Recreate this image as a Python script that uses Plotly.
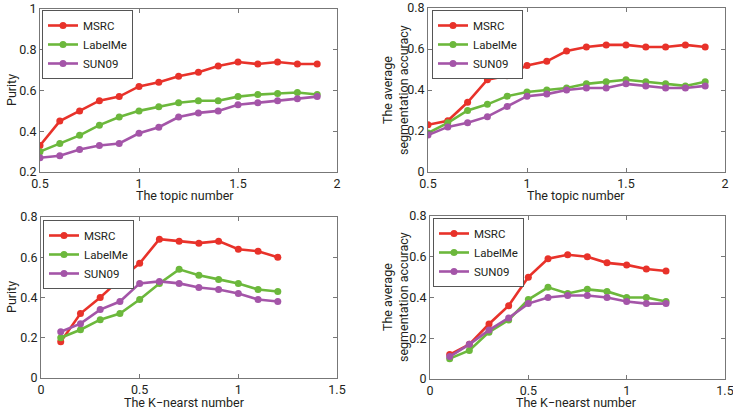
import plotly.graph_objects as go

topic_x = [0.5, 0.6, 0.7, 0.8, 0.9, 1.0, 1.1, 1.2, 1.3, 1.4, 1.5, 1.6, 1.7, 1.8, 1.9]
knn_x = [0.1, 0.2, 0.3, 0.4, 0.5, 0.6, 0.7, 0.8, 0.9, 1.0, 1.1, 1.2]

p1_msrc = [0.33, 0.45, 0.50, 0.55, 0.57, 0.62, 0.64, 0.67, 0.69, 0.72, 0.74, 0.73, 0.74, 0.73, 0.73]
p1_labelme = [0.30, 0.34, 0.38, 0.43, 0.47, 0.50, 0.52, 0.54, 0.55, 0.55, 0.57, 0.58, 0.585, 0.59, 0.58]
p1_sun09 = [0.27, 0.28, 0.31, 0.33, 0.34, 0.39, 0.42, 0.47, 0.49, 0.50, 0.53, 0.54, 0.55, 0.56, 0.57]

p2_msrc = [0.23, 0.25, 0.34, 0.45, 0.47, 0.52, 0.54, 0.59, 0.61, 0.62, 0.62, 0.61, 0.61, 0.62, 0.61]
p2_labelme = [0.19, 0.24, 0.30, 0.33, 0.37, 0.39, 0.40, 0.41, 0.43, 0.44, 0.45, 0.44, 0.43, 0.42, 0.44]
p2_sun09 = [0.18, 0.22, 0.24, 0.27, 0.32, 0.37, 0.38, 0.40, 0.41, 0.41, 0.43, 0.42, 0.41, 0.41, 0.42]

p3_msrc = [0.18, 0.32, 0.40, 0.49, 0.57, 0.69, 0.68, 0.67, 0.68, 0.64, 0.63, 0.60]
p3_labelme = [0.20, 0.24, 0.29, 0.32, 0.39, 0.47, 0.54, 0.51, 0.49, 0.47, 0.44, 0.43]
p3_sun09 = [0.23, 0.27, 0.34, 0.38, 0.47, 0.48, 0.47, 0.45, 0.44, 0.42, 0.39, 0.38]

p4_msrc = [0.12, 0.17, 0.27, 0.36, 0.50, 0.59, 0.61, 0.60, 0.57, 0.56, 0.54, 0.53]
p4_labelme = [0.10, 0.14, 0.23, 0.29, 0.39, 0.45, 0.42, 0.44, 0.43, 0.40, 0.40, 0.38]
p4_sun09 = [0.11, 0.17, 0.24, 0.30, 0.37, 0.40, 0.41, 0.41, 0.40, 0.38, 0.37, 0.37]

series_names = ["MSRC", "LabelMe", "SUN09"]
colors = ["#e8322a", "#6cb83c", "#a455a8"]

topic_ticks = [0.5, 1, 1.5, 2]
knn_ticks = [0, 0.5, 1, 1.5]
purity_ticks_top = [0.2, 0.4, 0.6, 0.8, 1]
acc_ticks = [0, 0.2, 0.4, 0.6, 0.8]

W, H = 733, 413
FONT = "Roboto"
TXT = "#231f20"
FS = 12

panels = [
    dict(x=topic_x, ys=[p1_msrc, p1_labelme, p1_sun09], px=(40, 337), py=(9, 172),
         xr=[0.5, 2], yr=[0.2, 1], xtv=topic_ticks, ytv=purity_ticks_top,
         xt="The topic number", yt="Purity",
         leg=(42, 10), xtp=(185, 195), ytp=(11, 90)),
    dict(x=topic_x, ys=[p2_msrc, p2_labelme, p2_sun09], px=(428, 725), py=(8, 172),
         xr=[0.5, 2], yr=[0, 0.8], xtv=topic_ticks, ytv=acc_ticks,
         xt="The topic number",
         yt="The average<br>segmentation accuracy", leg=(432, 10), xtp=(576, 195), ytp=(395, 90)),
    dict(x=knn_x, ys=[p3_msrc, p3_labelme, p3_sun09], px=(41, 337), py=(217, 378),
         xr=[0, 1.5], yr=[0, 0.8], xtv=knn_ticks, ytv=acc_ticks,
         xt="The K\u2212nearst number", yt="Purity",
         leg=(43, 220), xtp=(184, 402), ytp=(11, 297)),
    dict(x=knn_x, ys=[p4_msrc, p4_labelme, p4_sun09], px=(430, 725), py=(216, 379),
         xr=[0, 1.5], yr=[0, 0.8], xtv=knn_ticks, ytv=acc_ticks,
         xt="The K\u2212nearst number",
         yt="The average<br>segmentation accuracy", leg=(433, 218), xtp=(576, 402), ytp=(395, 297)),
]

fig = go.Figure()
layout = dict(
    width=W, height=H, margin=dict(l=0, r=0, t=0, b=0, autoexpand=False),
    paper_bgcolor="white", plot_bgcolor="white",
    font=dict(family=FONT, size=FS, color=TXT),
)
annotations = []

for i, p in enumerate(panels):
    n = "" if i == 0 else str(i + 1)
    xa, ya = "x" + n, "y" + n
    leg = "legend" + n
    for name, ys, c in zip(series_names, p["ys"], colors):
        fig.add_trace(go.Scatter(
            x=p["x"], y=ys, name=name, mode="lines+markers",
            line=dict(color=c, width=2.6), marker=dict(color=c, size=7),
            xaxis=xa, yaxis=ya, legend=leg, showlegend=True,
        ))
    axcommon = dict(showgrid=False, zeroline=False, showline=True, linecolor="#777",
                    linewidth=1, mirror="ticks", ticks="inside", ticklen=4,
                    tickcolor="#777", automargin=False, ticklabeloverflow="allow",
                    tickfont=dict(size=FS + 0.5, color=TXT, family=FONT))
    layout["xaxis" + n] = dict(
        domain=[p["px"][0] / W, p["px"][1] / W], range=p["xr"],
        tickmode="array", tickvals=p["xtv"], ticktext=[f"{v:g}" for v in p["xtv"]],
        anchor=ya, **axcommon)
    layout["yaxis" + n] = dict(
        domain=[1 - p["py"][1] / H, 1 - p["py"][0] / H], range=p["yr"],
        tickmode="array", tickvals=p["ytv"], ticktext=[f"{v:g}" for v in p["ytv"]],
        anchor=xa, **axcommon)
    layout[leg] = dict(
        x=p["leg"][0] / W, y=1 - p["leg"][1] / H, xanchor="left", yanchor="top",
        bgcolor="white", bordercolor="#555", borderwidth=1,
        font=dict(size=11.5, color=TXT, family=FONT), itemwidth=30,
        tracegroupgap=0,
    )
    annotations.append(dict(
        text=p["xt"], x=p["xtp"][0] / W, y=1 - p["xtp"][1] / H, xref="paper", yref="paper",
        xanchor="center", yanchor="middle", showarrow=False, font=dict(size=FS + 0.5, color=TXT)))
    annotations.append(dict(
        text=p["yt"], x=p["ytp"][0] / W, y=1 - p["ytp"][1] / H, xref="paper", yref="paper",
        xanchor="center", yanchor="middle", showarrow=False, textangle=-90,
        font=dict(size=FS + 0.5, color=TXT)))

layout["annotations"] = annotations
fig.update_layout(**layout)
fig.write_html("out.html", config={"displayModeBar": False},
               post_script="document.body.style.margin='0';document.body.style.overflow='hidden';")
